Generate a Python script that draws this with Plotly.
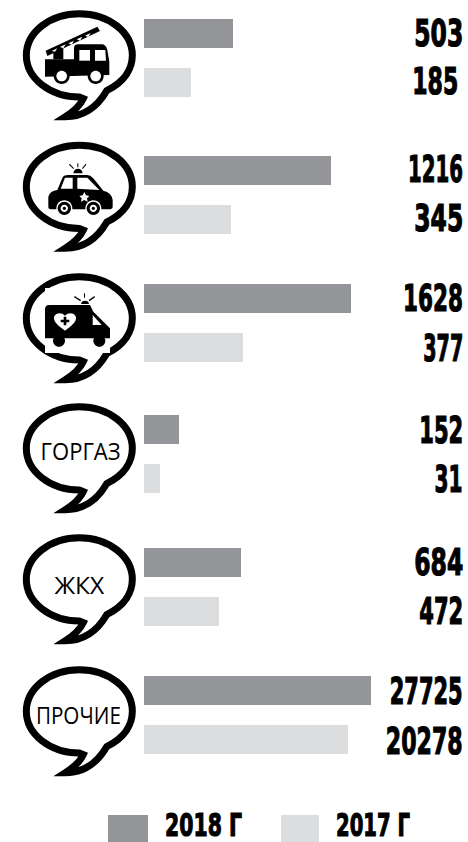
import re
import json
import plotly.graph_objects as go

# ---- data ----
groups = ["Пожарная", "Полиция", "Скорая", "ГОРГАЗ", "ЖКХ", "ПРОЧИЕ"]
values_2018 = [503, 1216, 1628, 152, 684, 27725]
values_2017 = [185, 345, 377, 31, 472, 20278]
# drawn bar lengths (the original bars are not to scale)
drawn_2018 = [89, 187, 207, 35, 97, 227]
drawn_2017 = [47, 87, 99, 16, 75, 204]
series_names = ["2018 Г", "2017 Г"]

# ---- layout ----
W, H = 468, 842
C18, C17 = "#939598", "#DCDDDE"
BAR_X0, BAR_H = 144, 29
centers_2018 = [33.5, 170.5, 298.5, 429.5, 562.5, 690.5]
centers_2017 = [82.5, 219.5, 347.5, 478.5, 611.5, 739.5]
bubble_dy = [0, 131.5, 263, 393, 524, 656]
label_y_2018 = [33.7, 169.5, 298.5, 430.5, 562.5, 691]
label_y_2017 = [81, 218.5, 348, 479.5, 611, 741]
label_right_2018 = [464.5] * 6
label_right_2017 = [460, 464.5, 464.5, 464.5, 464.5, 464.5]
label_w_2018 = [49, 55, 60, 44, 49, 73]
label_w_2017 = [46, 49, 40, 28, 44, 77]
NUM_FONT = dict(family="DejaVu Sans", size=37, color="#000000", weight=700)


def tf(path, ox=0.0, oy=0.0):
    """Scale a path written in 3x crop coordinates to figure pixels."""
    out, i = [], 0
    for t in re.findall(r"[A-Za-z]|-?\d+\.?\d*", path):
        if t.isalpha():
            out.append(t)
        else:
            v = float(t) / 3 + (ox if i % 2 == 0 else oy)
            out.append(f"{v:.2f}")
            i += 1
    return " ".join(out)


def shape(path, fill="#000000", line=None, lw=0, ox=0.0, oy=0.0):
    return dict(type="path", path=tf(path, ox, oy), fillcolor=fill,
                line=dict(color=line or "rgba(0,0,0,0)", width=lw),
                xref="x", yref="y", layer="above")


def circle(cx, cy, r):
    k = 0.5523 * r
    return (f"M {cx-r} {cy} C {cx-r} {cy-k} {cx-k} {cy-r} {cx} {cy-r} "
            f"C {cx+k} {cy-r} {cx+r} {cy-k} {cx+r} {cy} "
            f"C {cx+r} {cy+k} {cx+k} {cy+r} {cx} {cy+r} "
            f"C {cx-k} {cy+r} {cx-r} {cy+k} {cx-r} {cy} Z")


BUBBLE = ("M 320 272 C 375 245 397 205 397 166 C 397 97 326 41 238 41 "
          "C 150 41 79 97 79 166 C 79 235 150 291 238 291 L 250 296 "
          "C 240 318 218 336 196 350 C 255 350 295 315 320 272 Z")

shapes = []
for dy in bubble_dy:
    shapes.append(shape(BUBBLE, "#FFFFFF", "#000000", 7, oy=dy))

# fire truck
for p in ["M 135 178 L 222 178 L 222 145 Q 222 133 234 133 L 305 133 Q 318 133 322 150 L 328 185 L 328 225 L 135 230 Z",
          "M 137 152 L 292 80 L 300 93 L 142 168 Z",
          "M 160 150 L 190 145 L 190 178 L 160 178 Z"]:
    shapes.append(shape(p))
for x, y in [(185, 228), (287, 228)]:
    shapes.append(shape(circle(x, y, 24), "#000000"))
    shapes.append(shape(circle(x, y, 16), "#FFFFFF"))
for p in ["M 238 150 L 270 150 L 270 182 L 238 182 Z", "M 285 150 L 316 150 L 318 182 L 285 182 Z",
          "M 155 153 L 172 145 L 165 155 Z", "M 180 141 L 197 133 L 190 145 Z", "M 205 130 L 222 122 L 215 134 Z",
          "M 230 118 L 247 110 L 240 122 Z", "M 255 107 L 272 99 L 265 111 Z"]:
    shapes.append(shape(p, "#FFFFFF"))

# police car
for p in ["M 145 590 Q 150 572 172 570 L 188 532 Q 192 525 205 525 L 262 525 Q 270 525 280 535 L 310 572 Q 335 578 338 600 L 338 620 Q 338 628 325 628 L 155 628 Q 145 628 145 620 Z",
          "M 220 520 Q 222 506 234 506 Q 246 506 248 520 Z",
          "M 232 490 L 235 490 L 235 502 L 232 502 Z", "M 207 494 L 209 491 L 222 505 L 220 507 Z",
          "M 259 494 L 257 491 L 246 505 L 248 507 Z"]:
    shapes.append(shape(p))
for p in ["M 195 533 L 218 533 L 218 566 L 182 566 Z", "M 232 533 L 262 533 L 298 570 L 232 566 Z",
          "M 253 576 L 258 586 L 268 588 L 261 595 L 263 605 L 253 600 L 243 605 L 245 595 L 238 588 L 248 586 Z"]:
    shapes.append(shape(p, "#FFFFFF"))
for x, y in [(193, 625), (280, 625)]:
    shapes.append(shape(circle(x, y, 24), "#FFFFFF"))
    shapes.append(shape(circle(x, y, 20), "#000000"))
    shapes.append(shape(circle(x, y, 11), "#FFFFFF"))
    shapes.append(shape(circle(x, y, 5), "#000000"))

# ambulance (crop 2 coordinates, offset by 260 px)
A = 260
shapes.append(dict(type="rect", x0=45, x1=110, y0=288, y1=353, fillcolor="#FFFFFF",
                   line=dict(width=0), layer="above"))
for p in ["M 148 135 L 270 135 L 280 155 L 330 205 L 330 235 L 135 235 L 135 148 Q 135 135 148 135 Z",
          "M 243 132 Q 245 122 255 122 Q 265 122 267 132 Z",
          "M 252 100 L 255 100 L 255 113 L 252 113 Z", "M 222 112 L 224 108 L 243 120 L 241 124 Z",
          "M 285 112 L 283 108 L 266 120 L 268 124 Z"]:
    shapes.append(shape(p, oy=A))
for x, y in [(177, 242), (298, 242)]:
    shapes.append(shape(circle(x, y, 18), oy=A))
for p in ["M 278 165 L 305 195 L 278 195 Z",
          "M 195 212 C 175 198 160 185 162 172 C 165 158 185 155 195 167 C 205 155 225 158 228 172 C 230 185 215 198 195 212 Z"]:
    shapes.append(shape(p, "#FFFFFF", oy=A))
shapes.append(shape("M 191 170 L 199 170 L 199 179 L 208 179 L 208 187 L 199 187 L 199 196 L 191 196 L 191 187 L 182 187 L 182 179 L 191 179 Z", oy=A))

# legend swatches
for x0, x1, c in [(108, 148, C18), (281, 319, C17)]:
    shapes.append(dict(type="rect", x0=x0, x1=x1, y0=815, y1=842, fillcolor=c, line=dict(width=0), layer="above"))

annotations, fits = [], []
for i in range(6):
    annotations.append(dict(x=label_right_2018[i], y=label_y_2018[i], text=str(values_2018[i]),
                            xanchor="right", font=NUM_FONT))
    fits.append([label_w_2018[i], 1, 1.2])
    annotations.append(dict(x=label_right_2017[i], y=label_y_2017[i], text=str(values_2017[i]),
                            xanchor="right", font=NUM_FONT))
    fits.append([label_w_2017[i], 1, 1.2])

LEG_FONT = dict(NUM_FONT, size=32)
annotations.append(dict(x=162.5, y=825, text=series_names[0], xanchor="left", font=LEG_FONT))
fits.append([77, 0, 1.2])
annotations.append(dict(x=333.5, y=825, text=series_names[1], xanchor="left", font=LEG_FONT))
fits.append([74, 0, 1.2])
BUB_FONT = dict(family="Open Sans", size=24, color="#000000")
for name, cx, cy, w in [(groups[3], 80, 450, 80), (groups[4], 79.5, 584, 50), (groups[5], 78.5, 714, 85)]:
    annotations.append(dict(x=cx, y=cy, text=name, xanchor="center", font=BUB_FONT))
    fits.append([w, 0.5, 0])
for a in annotations:
    a.update(yanchor="middle", showarrow=False, xref="x", yref="y")

# horizontally condense each real text element to the width it has in the reference
post = """
var fits = %s;
var gd = document.querySelector('.plotly-graph-div');
function fit() {
  var els = gd.querySelectorAll('.annotation-text');
  for (var i = 0; i < els.length && i < fits.length; i++) {
    var e = els[i], b = e.getBBox(), f = fits[i];
    var s = f[0] / b.width;
    var px = b.x + b.width * f[1];
    e.setAttribute('transform', 'translate(' + (px * (1 - s)) + ',0) scale(' + s + ',1)');
    if (f[2]) { e.style.stroke = '#000'; e.style.strokeWidth = f[2] + 'px'; }
  }
}
fit();
""" % json.dumps(fits)

fig = go.Figure()
fig.add_bar(name=series_names[0], y=centers_2018, x=drawn_2018, base=BAR_X0, width=BAR_H,
            orientation="h", marker=dict(color=C18, line=dict(width=0)), customdata=values_2018)
fig.add_bar(name=series_names[1], y=centers_2017, x=drawn_2017, base=BAR_X0, width=BAR_H,
            orientation="h", marker=dict(color=C17, line=dict(width=0)), customdata=values_2017)
fig.update_layout(
    width=W, height=H, margin=dict(l=0, r=0, t=0, b=0),
    paper_bgcolor="#FFFFFF", plot_bgcolor="#FFFFFF", showlegend=False, barmode="overlay",
    xaxis=dict(range=[0, W], visible=False, fixedrange=True),
    yaxis=dict(range=[H, 0], visible=False, fixedrange=True),
    shapes=shapes, annotations=annotations,
)
fig.write_html("out.html", config=dict(displayModeBar=False), post_script=post)
with open("out.html", encoding="utf-8") as f:
    html = f.read()
html = html.replace("<head>", "<head><style>html,body{margin:0;padding:0;overflow:hidden}</style>", 1)
with open("out.html", "w", encoding="utf-8") as f:
    f.write(html)
